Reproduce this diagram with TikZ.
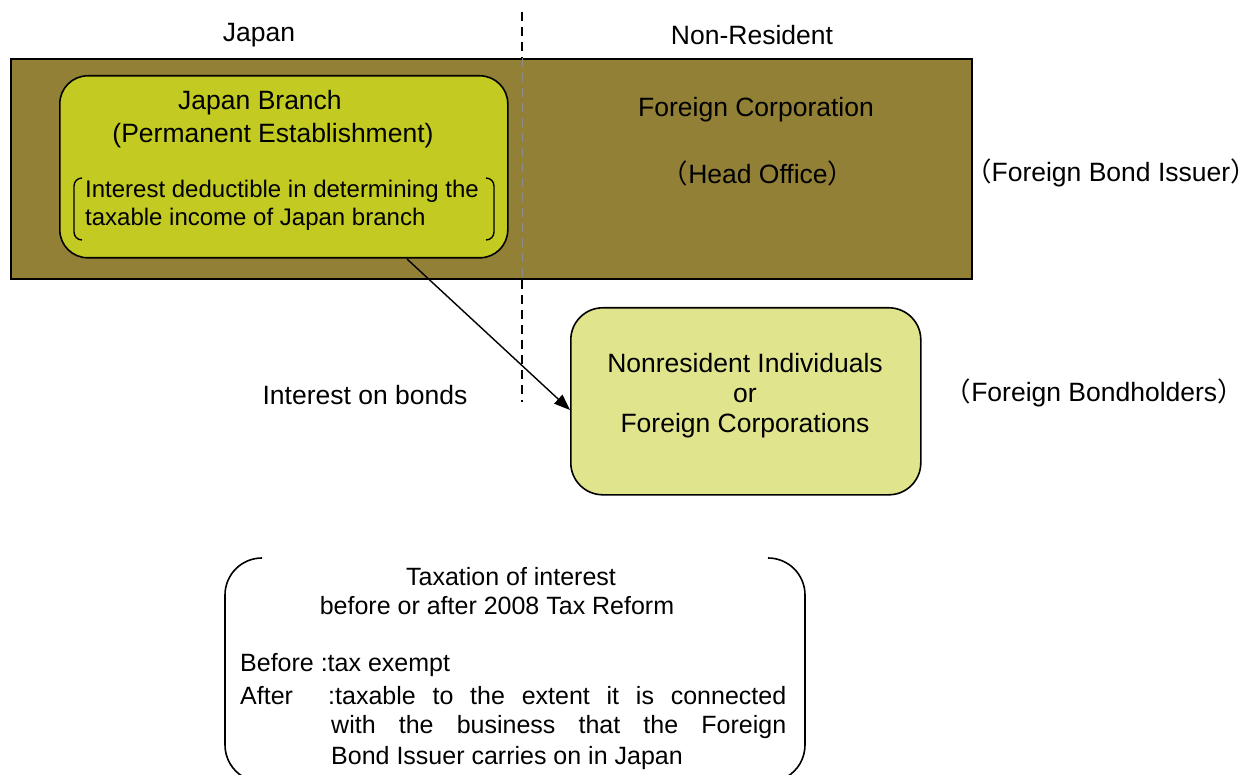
\documentclass[tikz,border=0pt]{standalone}
\usepackage{fontspec}
\setmainfont{Liberation Sans}
\newfontfamily\cjk{Noto Sans CJK JP}
\usetikzlibrary{arrows.meta}
\definecolor{olivebg}{HTML}{918036}
\definecolor{branchfill}{HTML}{C3CB22}
\definecolor{holderfill}{HTML}{E0E48C}
\newcommand{\lp}{{\cjk （}}
\newcommand{\rp}{{\cjk ）}}
\newcommand{\rpt}{{\cjk ）}\kern-0.6em}
\tikzset{
  lbl/.style={font=\fontsize{26.5}{30}\selectfont, inner sep=0pt},
  sml/.style={font=\fontsize{24}{28}\selectfont, inner sep=0pt},
  btm/.style={font=\fontsize{25}{30}\selectfont, inner sep=0pt, anchor=west},
  box/.style={draw=black, line width=1.6pt},
}
\begin{document}
\begin{tikzpicture}[x=1pt,y=-1pt]
\useasboundingbox (0,0) rectangle (1256,775);
% outer foreign issuer box
\node[box, line width=2pt, fill=olivebg, minimum width=961, minimum height=220, anchor=north west, inner sep=0pt] (corp) at (10,58) {};
% dashed separator
\coordinate (dtop) at (522,12);
\coordinate (dbot) at (522,402);
\draw[line width=1.5pt, dash pattern=on 9pt off 6pt] (dtop) -- (corp.north -| dtop);
\draw[line width=0.6pt, black!45, dash pattern=on 9pt off 6pt] (corp.north -| dtop) -- (corp.south -| dtop);
\draw[line width=1.5pt, dash pattern=on 9pt off 6pt] (corp.south -| dtop) -- (dbot);
% Japan branch
\node[box, fill=branchfill, rounded corners=28pt, minimum width=448, minimum height=182, anchor=north west, inner sep=0pt] (branch) at (59,75) {};
\node[lbl] (jb1) at (260,103) {Japan Branch};
\node[lbl] (jb2) at (273,136) {(Permanent Establishment)};
\node[sml, align=left, anchor=west] (jb3) at (85,205) {Interest deductible in determining the\\taxable income of Japan branch};
\draw[line width=1.4pt] (82,178) arc[start angle=-90, end angle=-180, radius=8] -- (74,232) arc[start angle=180, end angle=90, radius=8];
\draw[line width=1.4pt] (486,178) arc[start angle=-90, end angle=0, radius=8] -- (494,232) arc[start angle=0, end angle=90, radius=8];
% head office text
\node[lbl] (fc1) at (756,110) {Foreign Corporation};
\node[lbl] (fc2) at (758,173) {\lp Head Office\rp};
\node[lbl, anchor=east] (issuer) at (1241,173) {\lp Foreign Bond Issuer\rpt};
% top labels
\node[lbl] (jp) at (259,35) {Japan};
\node[lbl] (nr) at (752,35) {Non-Resident};
% bondholders
\node[box, fill=holderfill, rounded corners=32pt, minimum width=350, minimum height=187, anchor=north west, inner sep=0pt] (holder) at (570,307) {};
\node[lbl, align=center] (ht) at (745,396) {Nonresident Individuals\\or\\Foreign Corporations};
\node[lbl, anchor=east] (holdlbl) at (1244,393) {\lp Foreign Bondholders\rp};
% arrow
\coordinate (astart) at (407,259);
\draw[line width=1.4pt, -{Triangle[length=16pt, width=12pt]}] (astart) -- (570,410);
\node[lbl] (iob) at (365,395) {Interest on bonds};
% bottom bracket box
\draw[line width=1.6pt] (262,558) arc[start angle=-90, end angle=-180, radius=37] -- (225,745) arc[start angle=180, end angle=120, radius=37];
\draw[line width=1.6pt] (768,558) arc[start angle=-90, end angle=0, radius=37] -- (805,745) arc[start angle=0, end angle=60, radius=37];
\node[btm, anchor=center] (t1) at (511,577) {Taxation of interest};
\node[btm, anchor=center] (t2) at (497,606) {before or after 2008 Tax Reform};
\node[btm] (t3) at (240,665) {Before :tax exempt};
\node[btm] (t4) at (240,696) {After};
\node[btm] (t5) at (328,696) {\makebox[458pt][s]{:taxable to the extent it is connected}};
\node[btm] (t6) at (331,727) {\makebox[455pt][s]{with the business that the Foreign}};
\node[btm] (t7) at (331,758) {Bond Issuer carries on in Japan};
\end{tikzpicture}
\end{document}
